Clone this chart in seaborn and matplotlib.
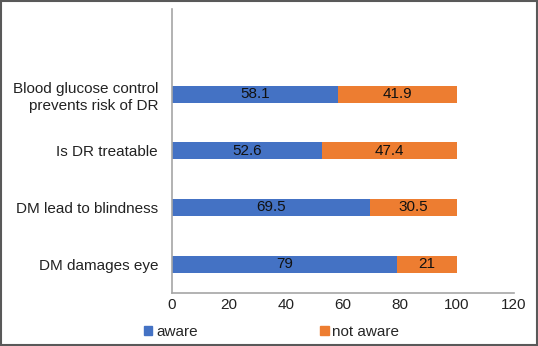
import pandas as pd
import seaborn as sns
import matplotlib.pyplot as plt
from matplotlib.patches import Patch, Rectangle

categories = ['Blood glucose control\nprevents risk of DR', 'Is DR treatable',
              'DM lead to blindness', 'DM damages eye']
aware = [58.1, 52.6, 69.5, 79]
not_aware = [41.9, 47.4, 30.5, 21]
xticks = [0, 20, 40, 60, 80, 100, 120]

df = pd.DataFrame({'Item': categories, 'aware': aware, 'not aware': not_aware})
df['total'] = df['aware'] + df['not aware']

blue = '#4472C4'
orange = '#ED7D31'

sns.set_style('white')
plt.rcParams['font.family'] = ['Liberation Sans', 'DejaVu Sans']

fig = plt.figure(figsize=(5.38, 3.46), dpi=100)
ax = fig.add_axes([0.3197, 0.1546, 0.6357, 0.8194])

# stacked: total (orange) underneath, aware (blue) on top
sns.barplot(data=df, y='Item', x='total', color=orange, orient='h', width=0.30,
            saturation=1, linewidth=0, ax=ax)
sns.barplot(data=df, y='Item', x='aware', color=blue, orient='h', width=0.30,
            saturation=1, linewidth=0, ax=ax)

for i, (a, n) in enumerate(zip(aware, not_aware)):
    ax.text(a / 2, i, f'{a:g}', ha='center', va='center', fontsize=11, color='#111111')
    ax.text(a + n / 2, i, f'{n:g}', ha='center', va='center', fontsize=11, color='#111111')

# Excel leaves an empty slot above the first category
ax.set_ylim(3.5, -1.5)
ax.set_xlim(0, 120)
ax.set_xticks(xticks)
ax.set_xlabel('')
ax.set_ylabel('')
ax.tick_params(axis='y', length=0, labelsize=11, colors='#222222', pad=10)
ax.tick_params(axis='x', length=0, labelsize=11, colors='#222222', pad=4)
for lbl in ax.get_yticklabels():
    lbl.set_linespacing(1.35)
for side in ['top', 'right']:
    ax.spines[side].set_visible(False)
for side in ['left', 'bottom']:
    ax.spines[side].set_color('#A6A6A6')
    ax.spines[side].set_linewidth(1.2)

handles = [Patch(color=blue, label='aware'), Patch(color=orange, label='not aware')]
fig.legend(handles=handles, loc='center', bbox_to_anchor=(0.505, 0.04), ncol=2,
           frameon=False, fontsize=11, handlelength=0.55, handleheight=0.55,
           handletextpad=0.25, columnspacing=8.0, borderpad=0)

fig.patches.append(Rectangle((0.002, 0.003), 0.996, 0.994, transform=fig.transFigure,
                             fill=False, edgecolor='#595959', linewidth=1.5))

fig.savefig('out.png', dpi=100)
